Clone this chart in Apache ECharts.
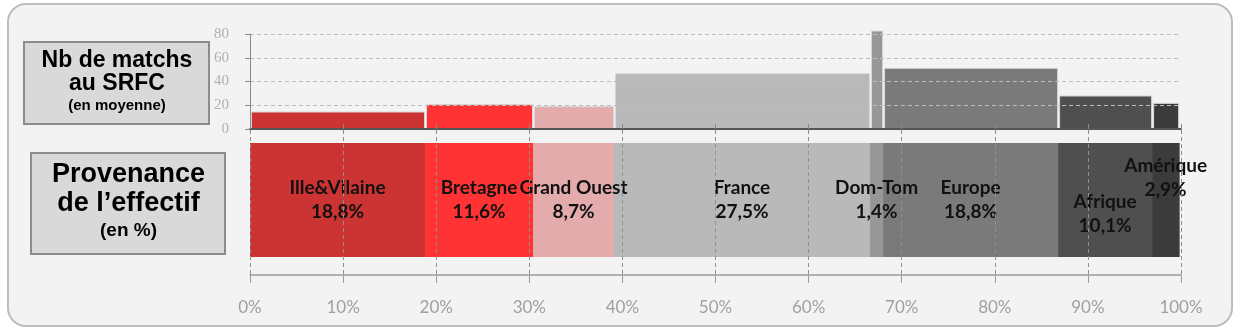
<!DOCTYPE html>
<html>
<head>
<meta charset="utf-8">
<script src="https://cdn.jsdelivr.net/npm/echarts@6/dist/echarts.min.js"></script>
<style>
html,body{margin:0;padding:0;background:#ffffff;}
#chart{width:1244px;height:331px;}
</style>
</head>
<body>
<div id="chart"></div>
<script>
// ---- data ----
const categories = ['Ille&Vilaine', 'Bretagne', 'Grand Ouest', 'France', 'Dom-Tom', 'Europe', 'Afrique', 'Amérique'];
const shares = [18.8, 11.6, 8.7, 27.5, 1.4, 18.8, 10.1, 2.9];          // % of squad
const matches = [14.3, 20.6, 18.8, 46.6, 82.5, 51.1, 27.8, 21.6];     // avg matches at SRFC
const yTicks = { min: 0, max: 80, interval: 20 };
const xTicks = { min: 0, max: 100, interval: 10 };

// ---- styles / layout ----
const colors = ['#cc3333', '#ff3333', '#e3abab', '#b9b9b9', '#979797', '#7a7a7a', '#4f4f4f', '#3b3b3b'];
const labelDy = [0, 0, 0, 0, 0, 0, 14, -22];

const fmtPct = v => v.toFixed(1).replace('.', ',') + '%';
let acc = 0;
const segs = shares.map((s, i) => { const a = acc; acc += s; return [a, acc, matches[i], i]; });

const chart = echarts.init(document.getElementById('chart'), null, { renderer: 'canvas' });
const boxFont = '"Liberation Sans", Arial, sans-serif';

const option = {
  backgroundColor: 'transparent',
  animation: false,
  graphic: [
    { type: 'rect', z: -10, shape: { x: 8, y: 4, width: 1224, height: 322, r: 18 },
      style: { fill: '#f3f3f3', stroke: '#bdbdbd', lineWidth: 2 } },
    { type: 'rect', z: 10, shape: { x: 24, y: 42, width: 185, height: 82 },
      style: { fill: '#d9d9d9', stroke: '#8c8c8c', lineWidth: 2 } },
    { type: 'text', z: 11, style: { text: 'Nb de matchs', x: 117, y: 61, align: 'center', verticalAlign: 'middle',
      font: 'bold 23px ' + boxFont, fill: '#000' } },
    { type: 'text', z: 11, style: { text: 'au SRFC', x: 117, y: 84, align: 'center', verticalAlign: 'middle',
      font: 'bold 23px ' + boxFont, fill: '#000' } },
    { type: 'text', z: 11, style: { text: '(en moyenne)', x: 117, y: 106, align: 'center', verticalAlign: 'middle',
      font: 'bold 15px ' + boxFont, fill: '#000' } },
    { type: 'rect', z: 10, shape: { x: 31, y: 153, width: 194, height: 101 },
      style: { fill: '#d9d9d9', stroke: '#8c8c8c', lineWidth: 2 } },
    { type: 'text', z: 11, style: { text: 'Provenance', x: 128.5, y: 175, align: 'center', verticalAlign: 'middle',
      font: 'bold 27px ' + boxFont, fill: '#000' } },
    { type: 'text', z: 11, style: { text: 'de l\u2019effectif', x: 128.5, y: 204, align: 'center', verticalAlign: 'middle',
      font: 'bold 27px ' + boxFont, fill: '#000' } },
    { type: 'text', z: 11, style: { text: '(en %)', x: 128.5, y: 231, align: 'center', verticalAlign: 'middle',
      font: 'bold 19px ' + boxFont, fill: '#000' } }
  ],
  grid: [
    { left: 250, right: 63, top: 34, height: 95 },
    { left: 250, right: 63, top: 130, height: 145 }
  ],
  xAxis: [
    { type: 'value', gridIndex: 0, min: xTicks.min, max: xTicks.max, interval: xTicks.interval, z: 3,
      axisLine: { show: true, lineStyle: { color: '#555', width: 2 } },
      axisTick: { show: true, inside: true, length: 5, lineStyle: { color: '#888' } },
      axisLabel: { show: false }, splitLine: { show: false } },
    { type: 'value', gridIndex: 1, min: xTicks.min, max: xTicks.max, interval: xTicks.interval, z: 3,
      axisLine: { show: true, lineStyle: { color: '#9a9a9a', width: 1.5 } },
      axisTick: { show: true, length: 8, lineStyle: { color: '#9a9a9a' } },
      axisLabel: { formatter: '{value}%', fontFamily: 'Lato, "Open Sans", sans-serif', fontSize: 17, color: '#a0a0a0', margin: 24 },
      splitLine: { show: true, lineStyle: { color: '#8f8f8f', type: [4, 3] } } }
  ],
  yAxis: [
    { type: 'value', gridIndex: 0, min: yTicks.min, max: yTicks.max, interval: yTicks.interval, z: 3,
      axisLine: { show: true, lineStyle: { color: '#8a8a8a' } },
      axisTick: { show: true, length: 5, lineStyle: { color: '#8a8a8a' } },
      axisLabel: { fontFamily: '"Liberation Serif", "DejaVu Serif", serif', fontSize: 15, color: '#b0b0b0', margin: 21 },
      splitLine: { show: true, lineStyle: { color: '#bdbdbd', type: [4, 3] } } },
    { type: 'value', gridIndex: 1, min: 0, max: 1, show: false }
  ],
  series: [
    {
      type: 'custom', xAxisIndex: 0, yAxisIndex: 0, z: 2,
      data: segs,
      encode: { x: [0, 1], y: 2 },
      renderItem: function (params, api) {
        const s = api.value(0), e = api.value(1), v = api.value(2), i = api.value(3);
        const p0 = api.coord([s, v]);
        const p1 = api.coord([e, 0]);
        return {
          type: 'rect',
          shape: { x: p0[0] + 1.5, y: p0[1], width: p1[0] - p0[0] - 2, height: p1[1] - p0[1] },
          style: { fill: colors[i], stroke: '#d6d6d6', lineWidth: 1 }
        };
      }
    },
    {
      type: 'custom', xAxisIndex: 1, yAxisIndex: 1, z: 2,
      data: segs,
      encode: { x: [0, 1] },
      renderItem: function (params, api) {
        const s = api.value(0), e = api.value(1), i = api.value(3);
        const cs = params.coordSys;
        const x0 = api.coord([s, 0])[0];
        const x1 = api.coord([e, 0])[0];
        const top = cs.y + 13, h = 114;
        return {
          type: 'group',
          children: [
            { type: 'rect', shape: { x: x0, y: top, width: x1 - x0 + 0.5, height: h }, style: { fill: colors[i] } },
            { type: 'text', z2: 5, style: {
                text: categories[i] + '\n' + fmtPct(shares[i]),
                x: (x0 + x1) / 2, y: top + h / 2 + labelDy[i],
                align: 'center', verticalAlign: 'middle',
                fontFamily: 'Lato, "Open Sans", sans-serif', fontWeight: 'bold', fontSize: 19, lineHeight: 24,
                fill: '#111' } }
          ]
        };
      }
    }
  ]
};
chart.setOption(option);
</script>
</body>
</html>
